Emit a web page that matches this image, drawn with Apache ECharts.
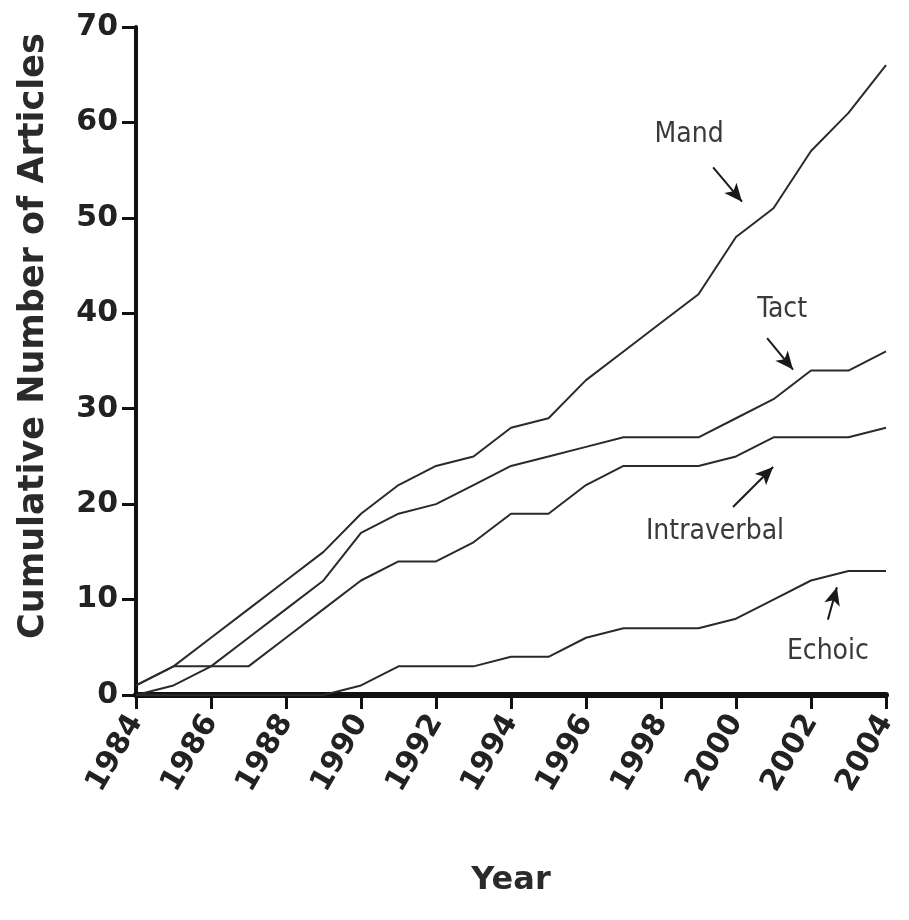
<!DOCTYPE html>
<html>
<head>
<meta charset="utf-8">
<script src="https://cdn.jsdelivr.net/npm/echarts@6/dist/echarts.min.js"></script>
<style>
html,body{margin:0;padding:0;background:#fff;}
#chart{width:909px;height:920px;}
</style>
</head>
<body>
<div id="chart"></div>
<script>
var years = [1984,1985,1986,1987,1988,1989,1990,1991,1992,1993,1994,1995,1996,1997,1998,1999,2000,2001,2002,2003,2004];
var mand        = [1,3,6,9,12,15,19,22,24,25,28,29,33,36,39,42,48,51,57,61,66];
var tact        = [0,1,3,6,9,12,17,19,20,22,24,25,26,27,27,27,29,31,34,34,36];
var intraverbal = [1,3,3,3,6,9,12,14,14,16,19,19,22,24,24,24,25,27,27,27,28];
var echoic      = [0,0,0,0,0,0,1,3,3,3,4,4,6,7,7,7,8,10,12,13,13];

var seriesNames = ['Mand','Tact','Intraverbal','Echoic'];
// annotation label positions and arrows (data coordinates)
var labelPos = [[1998.75,58.7],[2001.23,40.4],[1999.44,17.1],[2002.45,4.5]];
var arrowFrom = [[1999.39,55.3],[2000.83,37.4],[1999.92,19.7],[2002.45,7.9]];
var arrowTo   = [[2000.16,51.7],[2001.52,34.1],[2000.99,23.9],[2002.69,11.3]];

function pairs(arr){ return years.map(function(y,i){ return [y, arr[i]]; }); }
var allData = [mand, tact, intraverbal, echoic];

var chart = echarts.init(document.getElementById('chart'));
var series = allData.map(function(d, i){
  return {
    name: seriesNames[i],
    type: 'line',
    data: pairs(d),
    symbol: 'none',
    lineStyle: {color: '#2a2a2a', width: 2},
    z: 3,
    markLine: {
      silent: true,
      symbol: ['none', 'arrow'],
      symbolSize: [12, 18],
      lineStyle: {color: '#1a1a1a', width: 2, type: 'solid'},
      label: {show: false},
      data: [[{coord: arrowFrom[i]}, {coord: arrowTo[i]}]]
    },
    markPoint: {
      silent: true,
      symbol: 'circle',
      symbolSize: 1,
      itemStyle: {color: 'rgba(0,0,0,0)'},
      label: {
        show: true, position: 'inside', formatter: seriesNames[i],
        fontFamily: "'DejaVu Sans Condensed', 'DejaVu Sans', sans-serif",
        fontSize: 28, color: '#3a3a3a'
      },
      data: [{coord: labelPos[i]}]
    }
  };
});

chart.setOption({
  animation: false,
  backgroundColor: '#fff',
  grid: {left: 136, right: 23, top: 27, bottom: 225, containLabel: false},
  xAxis: {
    type: 'value', min: 1984, max: 2004, interval: 2,
    name: 'Year', nameLocation: 'middle', nameGap: 170,
    nameTextStyle: {fontFamily: 'DejaVu Sans', fontWeight: 'bold', fontSize: 32, color: '#2a2a2a'},
    axisLine: {show: true, lineStyle: {color: '#111', width: 6}},
    axisTick: {show: true, inside: false, length: 14, lineStyle: {color: '#111', width: 3}},
    axisLabel: {rotate: 60, margin: 22, fontFamily: 'DejaVu Sans', fontWeight: 'bold', fontSize: 30, color: '#222',
      formatter: function(v){ return String(v); }},
    splitLine: {show: false}
  },
  yAxis: {
    type: 'value', min: 0, max: 70, interval: 10,
    name: 'Cumulative Number of Articles', nameLocation: 'middle', nameGap: 85, nameRotate: 90,
    nameTextStyle: {fontFamily: 'DejaVu Sans', fontWeight: 'bold', fontSize: 35, color: '#2a2a2a', padding: [0, 0, 0, 50]},
    axisLine: {show: true, lineStyle: {color: '#111', width: 4}},
    axisTick: {show: true, inside: false, length: 14, lineStyle: {color: '#111', width: 3}},
    axisLabel: {margin: 18, fontFamily: 'DejaVu Sans', fontWeight: 'bold', fontSize: 30, color: '#222'},
    splitLine: {show: false}
  },
  series: series
});
</script>
</body>
</html>
